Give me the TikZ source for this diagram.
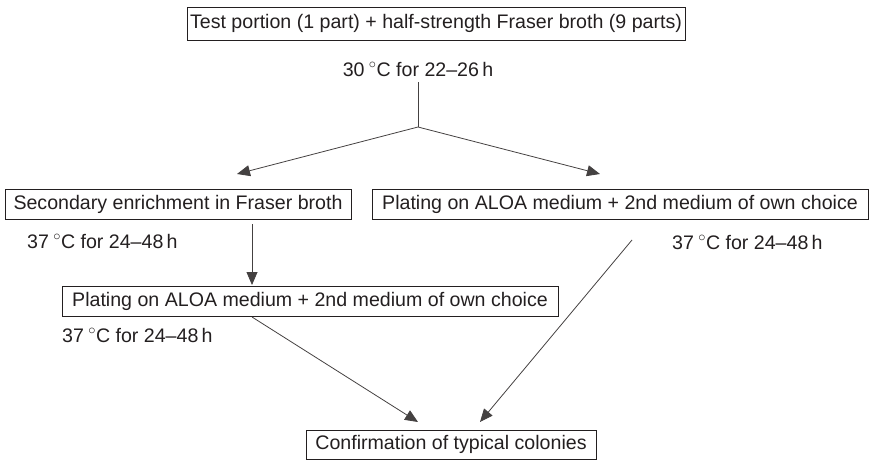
\documentclass[tikz,border=0pt]{standalone}
\usepackage{fontspec}
\setmainfont{Liberation Sans}
\usetikzlibrary{arrows.meta}
\definecolor{ink}{HTML}{231F20}
\newcommand{\degc}{\hspace{0.22em}$^{\circ}$C}
\tikzset{
  box/.style={draw=ink, line width=0.8pt, inner sep=0pt, text=ink, font=\fontsize{19.6}{24}\selectfont, anchor=center},
  lbl/.style={inner sep=0pt, text=ink, font=\fontsize{19.6}{24}\selectfont},
  conn/.style={draw=ink!85, line width=0.8pt},
  arr/.style={conn, -{Triangle[length=13pt,width=11pt]}},
}
\begin{document}
\begin{tikzpicture}[x=1pt,y=-1pt]
\useasboundingbox (0,0) rectangle (870,461);
\node[box, minimum width=498pt, minimum height=33pt] (top) at (436,23.5) {Test portion (1 part) + half-strength Fraser broth (9 parts)};
\node[lbl] (lblTop) at (418,69) {30\degc{} for 22–26\,h};
\node[box, minimum width=346pt, minimum height=30pt] (secL) at (178,204) {Secondary enrichment in Fraser broth};
\node[box, minimum width=496pt, minimum height=30pt] (plR) at (620,204) {Plating on ALOA medium + 2nd medium of own choice};
\node[lbl, anchor=west] (lblL) at (27,241) {37\degc{} for 24–48\,h};
\node[lbl, anchor=west] (lblR) at (672,242) {37\degc{} for 24–48\,h};
\node[box, minimum width=496pt, minimum height=30pt] (plM) at (310,301) {Plating on ALOA medium + 2nd medium of own choice};
\node[lbl, anchor=west] (lblM) at (62,335) {37\degc{} for 24–48\,h};
\node[box, minimum width=290pt, minimum height=29pt] (conf) at (451,444.5) {Confirmation of typical colonies};
% connector points
\coordinate (t0) at (418,82);
\coordinate (j) at (418,127);
\coordinate (tipL) at (237,174);
\coordinate (tipR) at (600,174);
\coordinate (v0) at (252,224);
\coordinate (v1) at (252,285);
\coordinate (dL0) at (252,317);
\coordinate (dLt) at (418,422);
\coordinate (dR0) at (632,240);
\coordinate (dRt) at (480,422);
\draw[conn] (t0) -- (j);
\draw[arr] (j) -- (tipL);
\draw[arr] (j) -- (tipR);
\draw[arr] (v0) -- (v1);
\draw[arr] (dL0) -- (dLt);
\draw[arr] (dR0) -- (dRt);
\end{tikzpicture}
\end{document}
